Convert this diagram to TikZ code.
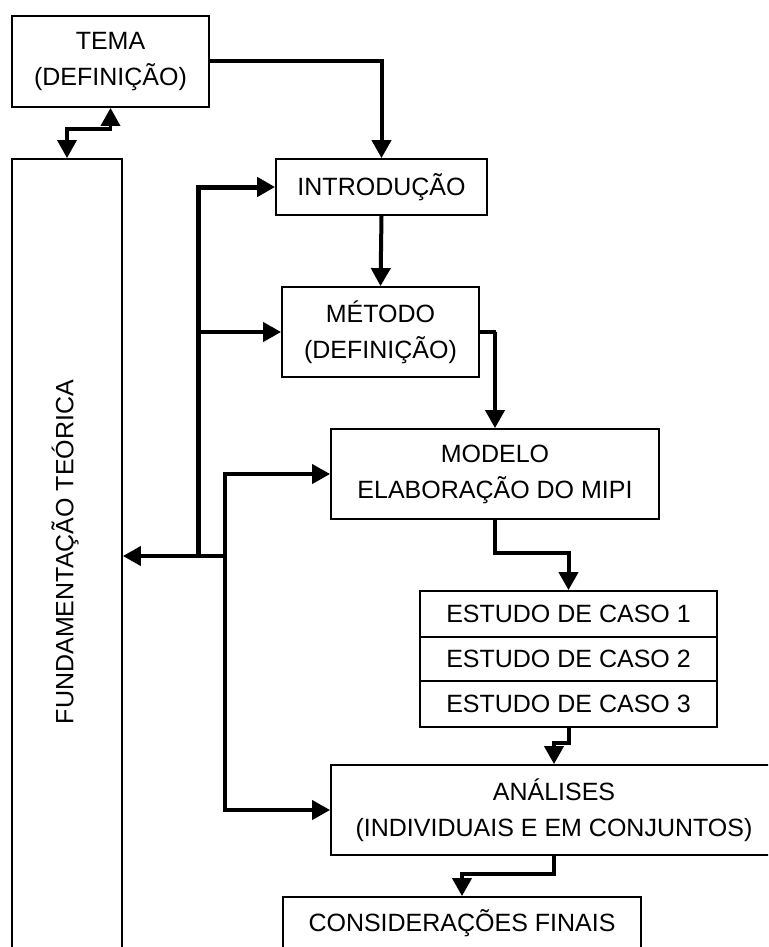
\documentclass[tikz,border=0pt]{standalone}
\usepackage{fontspec}
\setmainfont{Liberation Sans}
\usetikzlibrary{arrows.meta,calc}
\begin{document}
\begin{tikzpicture}[x=1pt,y=-1pt,
  txt/.style={font=\fontsize{25}{36}\selectfont,align=center,inner sep=0pt},
  box/.style={txt,draw,line width=1.8pt},
  tip/.tip={Triangle[length=18pt,width=19pt]},
  link/.style={line width=4pt,-tip},
  twolink/.style={line width=4pt,tip-tip},
  bus/.style={line width=5pt,tip-}]
\useasboundingbox (0,0) rectangle (768,947);
\clip (0,0) rectangle (768,947);

% boxes
\node[box,minimum width=197pt,minimum height=91pt] (tema) at (110.5,61.5) {TEMA\\(DEFINIÇÃO)};
\node[box,minimum width=110pt,minimum height=801pt] (fund) at (67,559.5) {};
\node[txt,rotate=90] (fundtxt) at (65,552) {FUNDAMENTAÇÃO TEÓRICA};
\node[box,minimum width=211pt,minimum height=56pt] (intro) at (381.5,187) {INTRODUÇÃO};
\node[box,minimum width=197pt,minimum height=90pt] (metodo) at (380.5,332) {MÉTODO\\(DEFINIÇÃO)};
\node[box,minimum width=328pt,minimum height=90pt] (modelo) at (495,474) {MODELO\\ELABORAÇÃO DO MIPI};
\node[box,minimum width=297pt,minimum height=46pt] (e1) at (568.5,614) {ESTUDO DE CASO 1};
\node[box,minimum width=297pt,minimum height=44pt] (e2) at (568.5,659) {ESTUDO DE CASO 2};
\node[box,minimum width=297pt,minimum height=46pt] (e3) at (568.5,704) {ESTUDO DE CASO 3};
\node[box,minimum width=446pt,minimum height=90pt] (analises) at (554,810) {ANÁLISES\\(INDIVIDUAIS E EM CONJUNTOS)};
\node[box,minimum width=358pt,minimum height=66pt] (cons) at (462,930) {};
\node[txt] (constxt) at (462,923) {CONSIDERAÇÕES FINAIS};

% main flow
\draw[link] (tema.east) -| (intro.north);
\draw[link] (intro.south) -- (metodo.north);
\draw[link] (metodo.east) -- ++(16,0) -| (modelo.north);
\draw[link] (modelo.south) -- ++(0,33) -| (e1.north);
\draw[link] (e3.south) -- ++(0,15) -| (analises.north);
\draw[link] (analises.south) -- ++(0,18.5) -| (cons.north);

% theme <-> theoretical background
\draw[twolink,line width=3.5pt] (tema.south) |- ($(fund.north)+(0,-29)$) -- (fund.north);

% feedback bus
\coordinate (b3) at (198,556);
\coordinate (b2) at (198,332);
\coordinate (c0) at (225,556);
\coordinate (c2) at (225,810);
\draw[bus] (intro.west) -| (b3);
\draw[link] (b2) -- (metodo.west);
\draw[link] (c0) -- (fund.east |- c0);
\draw[twolink] (modelo.west) -| (c2) -- (analises.west);
\end{tikzpicture}
\end{document}
